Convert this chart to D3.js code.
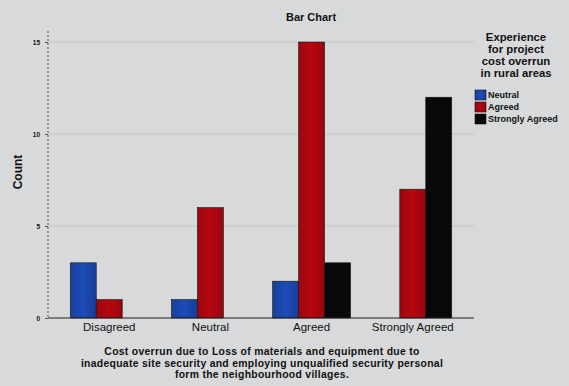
<!DOCTYPE html>
<html>
<head>
<meta charset="utf-8">
<script src="https://cdn.jsdelivr.net/npm/d3@7"></script>
<style>
  html, body { margin: 0; padding: 0; background: #d8d9db; }
  svg { display: block; font-family: "Liberation Sans", Arial, sans-serif; }
</style>
</head>
<body>
<svg id="chart" width="569" height="386"></svg>
<script>
// Responses to the cost-overrun statement, split by experience group
const categories = ["Disagreed", "Neutral", "Agreed", "Strongly Agreed"];
const seriesNames = ["Neutral", "Agreed", "Strongly Agreed"];
const neutralCounts = [3, 1, 2, 0];
const agreedCounts = [1, 6, 15, 7];
const stronglyAgreedCounts = [0, 0, 3, 12];
const yTicks = [0, 5, 10, 15];
const seriesColors = ["#1d4cb8", "#b80710", "#0a0a0c"];

const titleText = "Bar Chart";
const yTitle = "Count";
const xTitleLines = [
  "Cost overrun due to Loss of materials and equipment due to",
  "inadequate site security and employing unqualified security personal",
  "form the neighbourhood villages."
];
const legendTitleLines = ["Experience", "for project", "cost overrun", "in rural areas"];

const seriesValues = [neutralCounts, agreedCounts, stronglyAgreedCounts];

const svg = d3.select("#chart");

// Plot frame
const plotLeft = 48, plotRight = 474, plotTop = 31, plotBottom = 318;

const x = d3.scaleBand()
  .domain(categories)
  .range([plotLeft, plotRight])
  .paddingInner(0.23)
  .paddingOuter(0.22);

const xInner = d3.scaleBand()
  .domain(seriesNames)
  .range([0, x.bandwidth()]);

const y = d3.scaleLinear().domain([0, 15.6]).range([plotBottom, plotTop]);

// Shaded fills: darker at the edges, brighter toward the middle
const defs = svg.append("defs");
seriesColors.forEach((c, i) => {
  const g = defs.append("linearGradient")
    .attr("id", "grad" + i)
    .attr("x1", "0%").attr("x2", "100%").attr("y1", "0%").attr("y2", "0%");
  const base = d3.color(c);
  g.append("stop").attr("offset", "0%").attr("stop-color", base.darker(0.5));
  g.append("stop").attr("offset", "50%").attr("stop-color", base);
  g.append("stop").attr("offset", "100%").attr("stop-color", base.darker(0.6));
});

// Horizontal grid lines
svg.append("g")
  .selectAll("line")
  .data(yTicks.filter(d => d > 0))
  .join("line")
  .attr("x1", plotLeft).attr("x2", plotRight)
  .attr("y1", d => y(d)).attr("y2", d => y(d))
  .attr("stroke", "#c2c3c6")
  .attr("stroke-width", 1);

// Bars
const rows = categories.map((cat, ci) => ({
  cat,
  values: seriesNames.map((s, si) => ({ s, si, v: seriesValues[si][ci] }))
}));

svg.append("g")
  .selectAll("g")
  .data(rows)
  .join("g")
  .attr("transform", d => `translate(${x(d.cat)},0)`)
  .selectAll("rect")
  .data(d => d.values.filter(v => v.v > 0))
  .join("rect")
  .attr("x", d => xInner(d.s))
  .attr("width", xInner.bandwidth())
  .attr("y", d => y(d.v))
  .attr("height", d => y(0) - y(d.v))
  .attr("fill", d => `url(#grad${d.si})`)
  .attr("stroke", "#141414")
  .attr("stroke-width", 0.6);

// Y axis
const yAxis = d3.axisLeft(y).tickValues(yTicks).tickSize(3).tickFormat(d3.format("d"));
const yg = svg.append("g").attr("transform", `translate(${plotLeft},0)`).call(yAxis);
yg.select(".domain").attr("stroke", "#555").attr("d", `M0,${plotTop}V${plotBottom}`).attr("stroke-dasharray", "2,2");
yg.selectAll(".tick line").attr("stroke", "#555");
yg.selectAll(".tick text")
  .attr("font-size", 6.5).attr("font-weight", "bold").attr("fill", "#111").attr("x", -8);

// X axis
const xAxis = d3.axisBottom(x).tickSize(0);
const xg = svg.append("g").attr("transform", `translate(0,${plotBottom})`).call(xAxis);
xg.select(".domain").attr("stroke", "#222").attr("stroke-width", 1.2).attr("d", `M${plotLeft},0H${plotRight}`);
xg.selectAll(".tick text")
  .attr("font-size", 11.5).attr("fill", "#111").attr("dy", "0.75em").attr("y", 4);

// Title
svg.append("text")
  .attr("x", 311).attr("y", 21)
  .attr("text-anchor", "middle")
  .attr("font-size", 11).attr("font-weight", "bold").attr("fill", "#111")
  .text(titleText);

// Y title
svg.append("text")
  .attr("transform", "translate(22,172) rotate(-90)")
  .attr("text-anchor", "middle")
  .attr("font-size", 12).attr("font-weight", "bold").attr("fill", "#111")
  .text(yTitle);

// X title, three wrapped lines
svg.append("g").selectAll("text")
  .data(xTitleLines)
  .join("text")
  .attr("x", 262)
  .attr("y", (d, i) => 355 + i * 11.5)
  .attr("text-anchor", "middle")
  .attr("font-size", 10.4).attr("letter-spacing", 0.3)
  .attr("font-weight", "bold").attr("fill", "#111")
  .text(d => d);

// Legend
const lg = svg.append("g");
lg.selectAll("text.lt")
  .data(legendTitleLines)
  .join("text")
  .attr("class", "lt")
  .attr("x", 516)
  .attr("y", (d, i) => 41 + i * 12)
  .attr("text-anchor", "middle")
  .attr("font-size", 11.3).attr("font-weight", "bold").attr("fill", "#111")
  .text(d => d);

const items = lg.selectAll("g.item")
  .data(seriesNames)
  .join("g")
  .attr("class", "item")
  .attr("transform", (d, i) => `translate(475,${90 + i * 12})`);
items.append("rect")
  .attr("width", 11).attr("height", 10)
  .attr("fill", (d, i) => `url(#grad${i})`)
  .attr("stroke", "#141414").attr("stroke-width", 0.6);
items.append("text")
  .attr("x", 13).attr("y", 8)
  .attr("font-size", 9).attr("font-weight", "bold").attr("fill", "#111")
  .text(d => d);
</script>
</body>
</html>
